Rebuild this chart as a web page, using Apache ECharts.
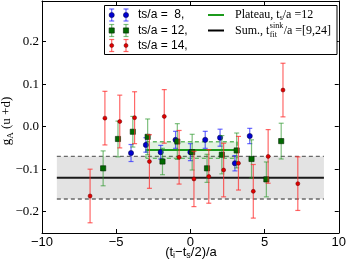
<!DOCTYPE html>
<html><head><meta charset="utf-8">
<script src="https://cdn.jsdelivr.net/npm/echarts@6/dist/echarts.min.js"></script>
<style>html,body{margin:0;padding:0;background:#fff}#c{width:349px;height:260px}</style>
</head><body><div id="c"></div>
<script>
// ---- data ----
const xTicks = [-10, -5, 0, 5, 10];
const yTicks = [-0.2, -0.1, 0.0, 0.1, 0.2];

const blueX   = [-4, -3, -2, -1, 0, 1, 2, 3, 4];
const blueY   = [-0.062, -0.043, -0.060, -0.031, -0.060, -0.031, -0.026, -0.086, -0.022];
const blueErr = [0.020, 0.017, 0.016, 0.020, 0.020, 0.020, 0.020, 0.018, 0.018];

const greenX   = [-5.88, -4.88, -3.88, -2.88, -1.88, -0.88, 0.12, 1.12, 2.12, 3.12, 4.12, 5.12, 6.12];
const greenY   = [-0.098, -0.029, -0.012, -0.024, -0.082, -0.035, -0.060, -0.098, -0.066, -0.056, -0.076, -0.124, -0.034];
const greenErr = [0.041, 0.042, 0.036, 0.042, 0.031, 0.042, 0.042, 0.033, 0.045, 0.041, 0.045, 0.041, 0.042];

const redX   = [-6.76, -5.76, -4.76, -3.76, -2.76, -1.76, -0.76, 0.24, 1.24, 2.24, 3.24, 4.24, 5.24, 6.24, 7.24];
const redY   = [-0.163, 0.020, 0.012, 0.021, -0.082, 0.024, -0.072, -0.123, -0.117, -0.102, -0.086, -0.152, -0.070, 0.086, -0.134];
const redErr = [0.063, 0.063, 0.062, 0.061, 0.063, 0.063, 0.063, 0.065, 0.063, 0.063, 0.063, 0.063, 0.063, 0.063, 0.063];

const plateauRange = [-3, 3.15];
const plateauVal   = [-0.055, 0.0195];   // mean, error
const sumRange     = [-9, 9];
const sumVal       = [-0.12, 0.05];      // mean, error

const legendLabels = ['ts/a =  8,', 'ts/a = 12,', 'ts/a = 14,'];

// ---- chart ----
const chart = echarts.init(document.getElementById('c'), null, {renderer: 'canvas'});

function zip3(a, b, c) { return a.map((v, i) => [v, b[i], c[i]]); }

function makeMarker(kind, x, y) {
  if (kind === 'blue') return {type: 'circle', shape: {cx: x, cy: y, r: 2.6}, style: {fill: '#0000d0', stroke: '#00003a', lineWidth: 0.5}};
  if (kind === 'green') return {type: 'rect', shape: {x: x - 2.6, y: y - 2.6, width: 5.2, height: 5.2}, style: {fill: '#006a00', stroke: '#002500', lineWidth: 0.6}};
  return {type: 'circle', shape: {cx: x, cy: y, r: 2.0}, style: {fill: '#e00000', stroke: '#600000', lineWidth: 0.5}};
}

const ERR_LW = 1.2;
function errRender(kind, color) {
  return function (params, api) {
    const x = api.value(0), y = api.value(1), e = api.value(2);
    const p = api.coord([x, y]);
    const t = api.coord([x, y + e]);
    const b = api.coord([x, y - e]);
    const cw = 2.5;
    const st = {stroke: color, lineWidth: ERR_LW};
    return {type: 'group', children: [
      {type: 'line', shape: {x1: p[0], y1: t[1], x2: p[0], y2: b[1]}, style: st},
      {type: 'line', shape: {x1: p[0] - cw, y1: t[1], x2: p[0] + cw, y2: t[1]}, style: st},
      {type: 'line', shape: {x1: p[0] - cw, y1: b[1], x2: p[0] + cw, y2: b[1]}, style: st},
      makeMarker(kind, p[0], p[1])
    ]};
  };
}

function bandRender(fill, edge, center, dashedSides) {
  return function (params, api) {
    const x0 = api.value(0), x1 = api.value(1), m = api.value(2), e = api.value(3);
    const tl = api.coord([x0, m + e]);
    const br = api.coord([x1, m - e]);
    const c0 = api.coord([x0, m]);
    const c1 = api.coord([x1, m]);
    const dash = {stroke: edge, lineWidth: 1.4, lineDash: [4, 3]};
    const ch = [
      {type: 'rect', shape: {x: tl[0], y: tl[1], width: br[0] - tl[0], height: br[1] - tl[1]}, style: {fill: fill}},
      {type: 'line', shape: {x1: tl[0], y1: tl[1], x2: br[0], y2: tl[1]}, style: dash},
      {type: 'line', shape: {x1: tl[0], y1: br[1], x2: br[0], y2: br[1]}, style: dash},
      {type: 'line', shape: {x1: c0[0], y1: c0[1], x2: c1[0], y2: c1[1]}, style: {stroke: center, lineWidth: 2}}
    ];
    if (dashedSides) {
      ch.push({type: 'line', shape: {x1: tl[0], y1: tl[1], x2: tl[0], y2: br[1]}, style: dash});
      ch.push({type: 'line', shape: {x1: br[0], y1: tl[1], x2: br[0], y2: br[1]}, style: dash});
    }
    return {type: 'group', children: ch};
  };
}

const minus = v => (v < 0 ? '\u2212' : '') + Math.abs(v);
const axisLineStyle = {color: '#000', width: 1};

const option = {
  animation: false,
  grid: {left: 42, right: 8, top: 1, bottom: 27, containLabel: false},
  xAxis: [
    {type: 'value', min: -10, max: 10, interval: 5, position: 'bottom',
     axisLine: {show: true, onZero: false, lineStyle: axisLineStyle},
     axisTick: {show: true, inside: true, length: 4, lineStyle: {color: '#000'}},
     splitLine: {show: false},
     axisLabel: {margin: 3, color: '#000', fontFamily: 'Liberation Sans', fontSize: 13, formatter: v => minus(v)}},
    {type: 'value', min: -10, max: 10, interval: 5, position: 'top',
     axisLine: {show: true, onZero: false, lineStyle: axisLineStyle},
     axisTick: {show: true, inside: true, length: 4, lineStyle: {color: '#000'}},
     splitLine: {show: false}, axisLabel: {show: false}}
  ],
  yAxis: [
    {type: 'value', min: -0.25, max: 0.2953, position: 'left',
     axisLine: {show: true, onZero: false, lineStyle: axisLineStyle},
     axisTick: {show: true, inside: true, length: 4, customValues: yTicks, lineStyle: {color: '#000'}},
     splitLine: {show: false},
     axisLabel: {customValues: yTicks, margin: 3, color: '#000', fontFamily: 'Liberation Serif', fontSize: 13,
                 formatter: v => (v < 0 ? '\u2212' : '') + Math.abs(v).toFixed(1)}},
    {type: 'value', min: -0.25, max: 0.2953, position: 'right',
     axisLine: {show: true, onZero: false, lineStyle: axisLineStyle},
     axisTick: {show: true, inside: true, length: 4, customValues: yTicks, lineStyle: {color: '#000'}},
     splitLine: {show: false}, axisLabel: {show: false}}
  ],
  series: [
    {type: 'custom', name: 'sum', z: 1, renderItem: bandRender('#e3e3e3', '#6a6a6a', '#1a1a1a', false),
     data: [[sumRange[0], sumRange[1], sumVal[0], sumVal[1]]], encode: {x: [0, 1], y: 2}, silent: true},
    {type: 'custom', name: 'plateau', z: 2, renderItem: bandRender('rgba(60,170,60,0.15)', '#66bb66', '#1c9a1c', true),
     data: [[plateauRange[0], plateauRange[1], plateauVal[0], plateauVal[1]]], encode: {x: [0, 1], y: 2}, silent: true},
    {type: 'custom', name: 'ts8', z: 3, renderItem: errRender('blue', 'rgba(40,40,255,0.7)'),
     data: zip3(blueX, blueY, blueErr), encode: {x: 0, y: 1}},
    {type: 'custom', name: 'ts12', z: 4, renderItem: errRender('green', 'rgba(40,150,40,0.6)'),
     data: zip3(greenX, greenY, greenErr), encode: {x: 0, y: 1}},
    {type: 'custom', name: 'ts14', z: 5, renderItem: errRender('red', 'rgba(255,40,40,0.7)'),
     data: zip3(redX, redY, redErr), encode: {x: 0, y: 1}}
  ]
};

// text width helper for legend layout
const mctx = document.createElement('canvas').getContext('2d');
function tw(str, font) { mctx.font = font; return mctx.measureText(str).width; }

// legend and axis titles
const g = [];
g.push({type: 'rect', z: 100, shape: {x: 104.5, y: 5.5, width: 232.5, height: 49}, style: {fill: '#fff', stroke: '#000', lineWidth: 1}});
const rowY = [15, 30.5, 45.5];
const kinds = [['blue', 'rgba(40,40,255,0.7)'], ['green', 'rgba(40,150,40,0.6)'], ['red', 'rgba(255,40,40,0.7)']];
kinds.forEach((k, i) => {
  [111.7, 126].forEach(mx => {
    const y = rowY[i];
    const st = {stroke: k[1], lineWidth: ERR_LW};
    g.push({type: 'line', z: 101, shape: {x1: mx, y1: y - 6, x2: mx, y2: y + 6}, style: st});
    g.push({type: 'line', z: 101, shape: {x1: mx - 2.5, y1: y - 6, x2: mx + 2.5, y2: y - 6}, style: st});
    g.push({type: 'line', z: 101, shape: {x1: mx - 2.5, y1: y + 6, x2: mx + 2.5, y2: y + 6}, style: st});
    const m = makeMarker(k[0], mx, y); m.z = 102; g.push(m);
  });
  g.push({type: 'text', z: 101, x: 138, y: rowY[i], style: {text: legendLabels[i], fill: '#000', font: '12px "Liberation Sans"', textVerticalAlign: 'middle', textAlign: 'left'}});
});
g.push({type: 'line', z: 101, shape: {x1: 208, y1: 15, x2: 224, y2: 15}, style: {stroke: '#1c9a1c', lineWidth: 2}});
g.push({type: 'line', z: 101, shape: {x1: 208, y1: 30.5, x2: 224, y2: 30.5}, style: {stroke: '#000', lineWidth: 2}});
g.push({type: 'text', z: 101, x: 235, y: 15, style: {
  text: 'Plateau, t{s|s}/a =12', fill: '#000', font: '12px "Liberation Serif"', textVerticalAlign: 'middle',
  rich: {s: {fontSize: 8, fontFamily: 'Liberation Serif', padding: [6, 0, 0, 0]}}}});
const F12 = '12px "Liberation Serif"', F8 = '8px "Liberation Serif"';
const sx = 235 + tw('Sum., t', F12) + 0.5;
const ex = sx + Math.max(tw('sink', F8), tw('fit', F8)) + 0.5;
g.push({type: 'text', z: 101, x: 235, y: 30.5, style: {text: 'Sum., t', fill: '#000', font: F12, textVerticalAlign: 'middle'}});
g.push({type: 'text', z: 101, x: sx, y: 26, style: {text: 'sink', fill: '#000', font: F8, textVerticalAlign: 'middle'}});
g.push({type: 'text', z: 101, x: sx, y: 34.5, style: {text: 'fit', fill: '#000', font: F8, textVerticalAlign: 'middle'}});
g.push({type: 'text', z: 101, x: ex, y: 30.5, style: {text: '/a =[9,24]', fill: '#000', font: F12, textVerticalAlign: 'middle'}});

g.push({type: 'text', z: 101, x: 191, y: 252, style: {
  text: '(t{s|i}\u2212t{s|s}/2)/a', fill: '#000', font: '13px "Liberation Sans"', textAlign: 'center', textVerticalAlign: 'middle',
  rich: {s: {fontSize: 9, fontFamily: 'Liberation Sans', padding: [7, 0, 0, 0]}}}});
g.push({type: 'text', z: 101, x: 7, y: 121, rotation: Math.PI / 2, style: {
  text: 'g{s|A} (u +d)', fill: '#000', font: '13px "Liberation Serif"', textAlign: 'center', textVerticalAlign: 'middle',
  rich: {s: {fontSize: 9, fontFamily: 'Liberation Serif', padding: [7, 0, 0, 0]}}}});

option.graphic = g;
chart.setOption(option);
</script>
</body></html>
